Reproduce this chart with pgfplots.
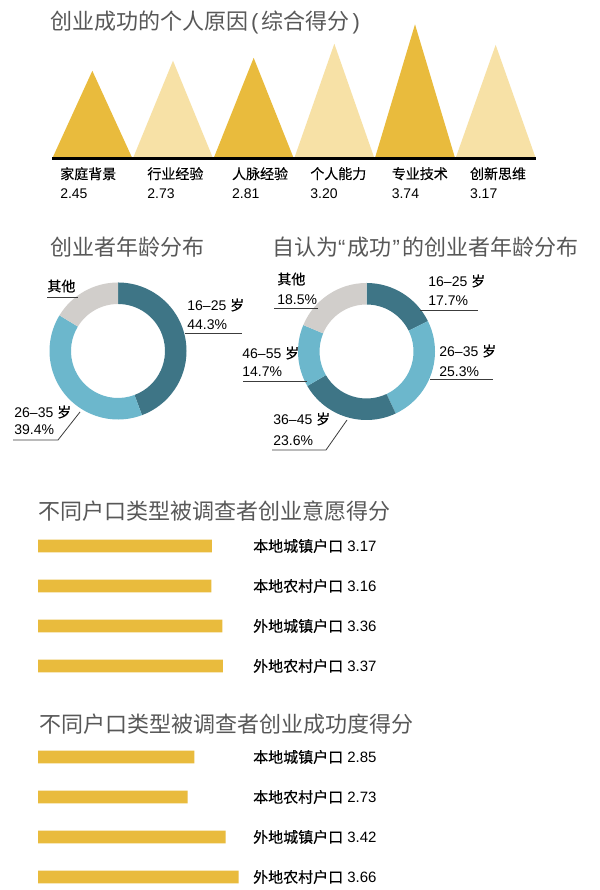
\documentclass[border=0pt]{standalone}
\usepackage{pgfplots}
\pgfplotsset{compat=1.18}
\usepackage{fontspec}
\setmainfont{Liberation Sans}
\newfontfamily\cjk{Noto Sans CJK SC}
\newfontfamily\cb[FakeBold=0.2]{Noto Sans CJK SC}
\definecolor{golddark}{RGB}{233,187,61}
\definecolor{goldlight}{RGB}{247,225,166}
\definecolor{tealdark}{RGB}{62,117,134}
\definecolor{lightblue}{RGB}{108,183,204}
\definecolor{grayseg}{RGB}{209,206,203}
\definecolor{titlegray}{RGB}{88,88,88}
\definecolor{linec}{RGB}{60,60,60}
% donut ring sector: colour, start %, end % (clockwise from top)
\newcommand{\ringseg}[3]{%
  \fill[#1] (axis cs:0,0) ++({90-3.6*#2}:68.5bp)
    arc[start angle={90-3.6*#2}, end angle={90-3.6*#3}, radius=68.5bp]
    -- ++({90-3.6*#3}:-21.5bp)
    arc[start angle={90-3.6*#3}, end angle={90-3.6*#2}, radius=47bp] -- cycle;}
\newcommand{\lab}[3]{\node[anchor=west,inner sep=0pt,font=\fontsize{14bp}{16bp}\selectfont] at (#1,#2) {#3};}
\newcommand{\ttl}[3]{\node[anchor=west,inner sep=0pt,text=titlegray,font=\cjk\fontsize{22bp}{26bp}\selectfont] at (#1,#2) {#3};}
\begin{document}
\begin{tikzpicture}[x=1bp,y=1bp]
\path[use as bounding box, fill=white] (0,0) rectangle (600,890);

% ---------- titles ----------
\ttl{50}{868}{创业成功的个人原因\hspace{3bp}{\rmfamily (}\hspace{3bp}综合得分\hspace{3bp}{\rmfamily )}}
\ttl{50}{643}{创业者年龄分布}
\ttl{272}{643}{自认为{\rmfamily “}\hspace{2bp}成功\hspace{1bp}{\rmfamily ”}\hspace{3bp}的创业者年龄分布}
\ttl{38}{379}{不同户口类型被调查者创业意愿得分}
\ttl{39}{166}{不同户口类型被调查者创业成功度得分}

% ---------- triangles ----------
\begin{axis}[at={(52bp,731bp)}, anchor=south west, scale only axis,
  width=484bp, height=144bp, xmin=0, xmax=6, ymin=0, ymax=4,
  axis x line*=bottom, axis y line=none,
  x axis line style={-, line width=3bp, black},
  xtick={0.10,1.18,2.23,3.20,4.21,5.18},
  xticklabels={{{\cb 家庭背景}\\2.45},{{\cb 行业经验}\\2.73},{{\cb 人脉经验}\\2.81},{{\cb 个人能力}\\3.20},{{\cb 专业技术}\\3.74},{{\cb 创新思维}\\3.17}},
  major tick length=0pt, xticklabel shift=0pt,
  xticklabel style={anchor=north west, align=left, inner sep=0pt,
    font=\fontsize{14bp}{19.5bp}\selectfont, yshift=-8bp},
  axis on top, clip=false]
\addplot[fill=golddark, draw=none] coordinates {(0,0) (0.5,2.45) (1,0)};
\addplot[fill=goldlight, draw=none] coordinates {(1,0) (1.5,2.73) (2,0)};
\addplot[fill=golddark, draw=none] coordinates {(2,0) (2.5,2.81) (3,0)};
\addplot[fill=goldlight, draw=none] coordinates {(3,0) (3.5,3.20) (4,0)};
\addplot[fill=golddark, draw=none] coordinates {(4,0) (4.5,3.74) (5,0)};
\addplot[fill=goldlight, draw=none] coordinates {(5,0) (5.5,3.17) (6,0)};
\end{axis}

% ---------- left donut ----------
\begin{axis}[at={(118bp,539bp)}, anchor=center, scale only axis,
  width=137bp, height=137bp, xmin=-1, xmax=1, ymin=-1, ymax=1,
  hide axis, clip=false]
\ringseg{tealdark}{0}{44.3}
\ringseg{lightblue}{44.3}{83.7}
\ringseg{grayseg}{83.7}{100}
\end{axis}

% ---------- right donut ----------
\begin{axis}[at={(366.5bp,538.5bp)}, anchor=center, scale only axis,
  width=137bp, height=137bp, xmin=-1, xmax=1, ymin=-1, ymax=1,
  hide axis, clip=false]
\ringseg{tealdark}{0}{17.7}
\ringseg{lightblue}{17.7}{43.0}
\ringseg{tealdark}{43.0}{66.6}
\ringseg{lightblue}{66.6}{81.3}
\ringseg{grayseg}{81.3}{100}
\end{axis}

% donut labels
\begin{scope}[draw=linec, line width=0.8bp]
\lab{47}{604}{\cb 其他}
\draw (47,593) -- (78,593);
\lab{187}{585}{16–25 {\cb 岁}}
\lab{187}{565}{44.3\%}
\draw (185,557) -- (242,557);
\lab{14}{478}{26–35 {\cb 岁}}
\lab{14}{460}{39.4\%}
\draw (13,450) -- (58,450) -- (80,478);

\lab{277}{611}{\cb 其他}
\lab{277}{590}{18.5\%}
\draw (274,582) -- (318,582);
\lab{428}{609}{16–25 {\cb 岁}}
\lab{428}{589}{17.7\%}
\draw (420,580) -- (478,580);
\lab{439}{539}{26–35 {\cb 岁}}
\lab{439}{518}{25.3\%}
\draw (430,511) -- (493,511);
\lab{242}{537}{46–55 {\cb 岁}}
\lab{242}{518}{14.7\%}
\draw (243,509) -- (307,509);
\lab{273}{471}{36–45 {\cb 岁}}
\lab{273}{449}{23.6\%}
\draw (272,440) -- (326,440) -- (347,470);
\end{scope}

% ---------- bars: intention ----------
\begin{axis}[at={(38bp,204bp)}, anchor=south west, scale only axis,
  width=215bp, height=160bp, xmin=0, xmax=3.92, ymin=-0.5, ymax=3.5,
  y dir=reverse, xbar, bar width=12.7bp, bar shift=0pt,
  axis x line=none, axis y line*=right, y axis line style={draw=none},
  ytick={0,1,2,3},
  yticklabels={{{\cb 本地城镇户口} 3.17},{{\cb 本地农村户口} 3.16},{{\cb 外地城镇户口} 3.36},{{\cb 外地农村户口} 3.37}},
  major tick length=0pt, yticklabel shift=0pt,
  yticklabel style={anchor=west, inner sep=0pt, font=\fontsize{15bp}{18bp}\selectfont},
  clip=false]
\addplot[fill=golddark, draw=none] coordinates {(3.17,0) (3.16,1) (3.36,2) (3.37,3)};
\end{axis}

% ---------- bars: success ----------
\begin{axis}[at={(38bp,1bp)}, anchor=south west, scale only axis,
  width=215bp, height=152bp, xmin=0, xmax=3.92, ymin=-0.5, ymax=3.3,
  y dir=reverse, xbar, bar width=12.7bp, bar shift=0pt,
  axis x line=none, axis y line*=right, y axis line style={draw=none},
  ytick={0,1,2,3},
  yticklabels={{{\cb 本地城镇户口} 2.85},{{\cb 本地农村户口} 2.73},{{\cb 外地城镇户口} 3.42},{{\cb 外地农村户口} 3.66}},
  major tick length=0pt, yticklabel shift=0pt,
  yticklabel style={anchor=west, inner sep=0pt, font=\fontsize{15bp}{18bp}\selectfont},
  clip=false]
\addplot[fill=golddark, draw=none] coordinates {(2.85,0) (2.73,1) (3.42,2) (3.66,3)};
\end{axis}
\end{tikzpicture}
\end{document}
